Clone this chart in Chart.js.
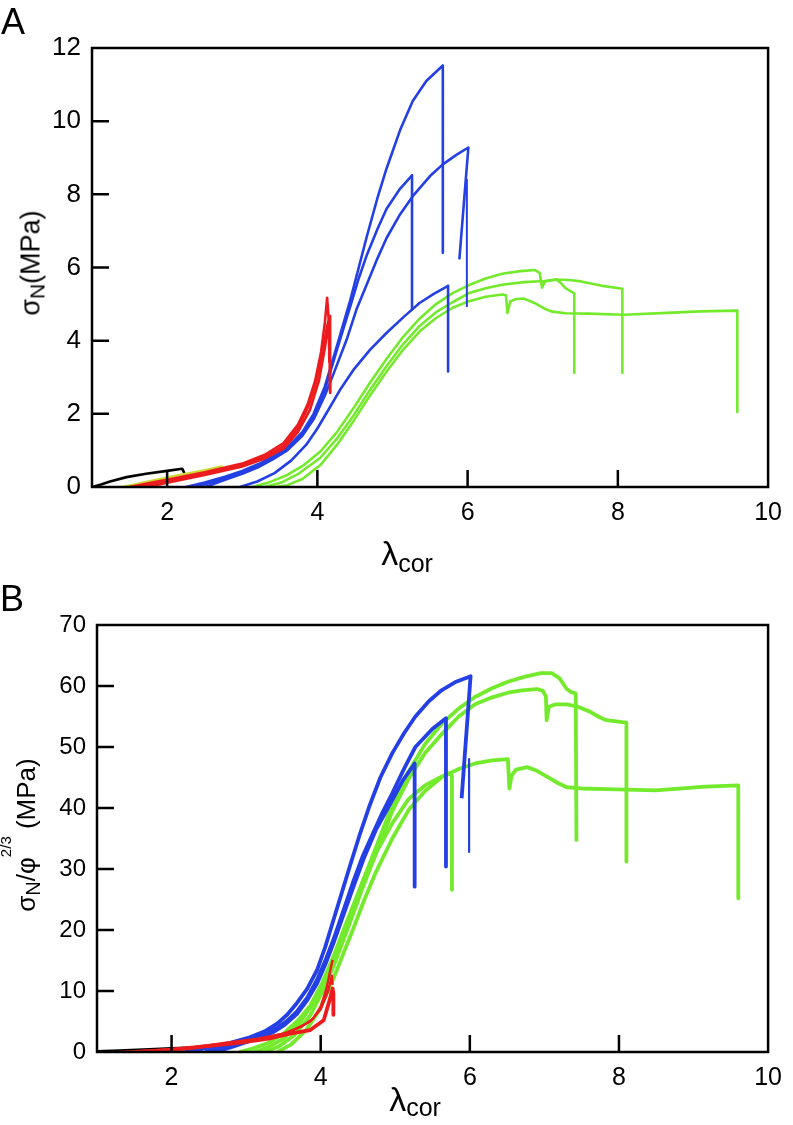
<!DOCTYPE html>
<html>
<head>
<meta charset="utf-8">
<script src="https://cdn.jsdelivr.net/npm/chart.js@4.4.1/dist/chart.umd.min.js"></script>
<style>
  body { margin: 0; background: #fff; }
  #page { position: relative; width: 793px; height: 1125px; overflow: hidden; font-family: 'Liberation Sans', Arial, Helvetica, sans-serif; color: #000; }
  .box { position: absolute; left: 0; }
  .lbl { position: absolute; white-space: nowrap; line-height: 1; }
  .rot { transform: translate(-50%, -50%) rotate(-90deg); }
  .sub { position: relative; }
</style>
</head>
<body>
<div id="page">
  <div class="box" style="top:0"><canvas id="chartA" width="793" height="545"></canvas></div>
  <div class="box" style="top:560px"><canvas id="chartB" width="793" height="565"></canvas></div>

  <div class="lbl" style="left:1px; top:4px; font-size:36px">A</div>
  <div class="lbl" style="left:0px; top:581px; font-size:36px">B</div>

  <div class="lbl rot" style="left:31px; top:263px; font-size:27px">σ<span class="sub" style="font-size:21px; top:5px">N</span>(MPa)</div>
  <div class="lbl rot" style="left:26px; top:835px; font-size:26px">σ<span class="sub" style="font-size:20px; top:5px">N</span>/φ<span class="sub" style="font-size:15px; top:-24px">2/3</span> (MPa)</div>

  <div class="lbl" style="left:407px; top:536px; font-size:34px; transform:translateX(-50%)">λ<span class="sub" style="font-size:25px; top:7px">cor</span></div>
  <div class="lbl" style="left:415px; top:1082px; font-size:34px; transform:translateX(-50%)">λ<span class="sub" style="font-size:25px; top:5px">cor</span></div>
</div>

<script>
// axis ticks
const xTicks = [2, 4, 6, 8, 10];
const aYTicks = [0, 2, 4, 6, 8, 10, 12];
const bYTicks = [0, 10, 20, 30, 40, 50, 60, 70];

// Panel A: sigma_N (MPa) vs lambda_cor, [lambda, sigma]
const aBlack = [[1.0,0],[1.12,0.07],[1.24,0.15],[1.46,0.27],[1.72,0.36],[2.0,0.44],[2.2,0.5],[2.23,0.38]];
const aYellow = [[1.4,0],[1.6,0.08],[1.89,0.21],[2.1,0.3],[2.33,0.39],[2.55,0.48],[2.73,0.56],[2.73,0.44]];
const aRed1 = [[1.5,0],[1.8,0.12],[2.1,0.24],[2.5,0.4],[3.0,0.64],[3.3,0.88],[3.55,1.2],[3.74,1.7],[3.87,2.25],[3.97,2.9],[4.05,3.7],[4.1,4.5],[4.13,5.17],[4.16,4.3],[4.17,2.6]];
const aRed2 = [[1.6,0],[2.0,0.17],[2.5,0.37],[3.0,0.6],[3.3,0.82],[3.55,1.12],[3.74,1.6],[3.88,2.2],[3.99,2.9],[4.07,3.7],[4.13,4.4],[4.17,4.67],[4.17,2.57]];
const aRed3 = [[1.74,0],[2.0,0.12],[2.5,0.33],[3.0,0.56],[3.3,0.78],[3.55,1.05],[3.74,1.5],[3.9,2.1],[4.02,2.9],[4.1,3.8],[4.15,4.5],[4.16,3.4]];
const aBlue1 = [[2.25,0],[2.5,0.12],[2.77,0.28],[3.0,0.44],[3.21,0.62],[3.4,0.82],[3.6,1.08],[3.8,1.5],[3.95,2.0],[4.1,2.75],[4.26,3.85],[4.44,5.12],[4.66,6.86],[4.8,7.9],[4.92,8.7],[5.1,9.75],[5.27,10.55],[5.45,11.1],[5.67,11.52],[5.67,6.4]];
const aBlue2 = [[2.51,0],[2.77,0.2],[3.0,0.36],[3.21,0.54],[3.4,0.75],[3.6,1.0],[3.8,1.4],[3.95,1.85],[4.1,2.5],[4.22,3.12],[4.39,4.03],[4.52,4.85],[4.66,5.55],[4.8,6.25],[4.92,6.8],[5.1,7.45],[5.27,7.95],[5.5,8.5],[5.67,8.82],[5.85,9.08],[6.01,9.28],[5.89,6.22]];
const aBlue2Tail = [[5.99,8.4],[5.99,4.94]];
const aBlue3 = [[2.38,0],[2.6,0.13],[2.77,0.24],[3.0,0.4],[3.21,0.58],[3.4,0.78],[3.6,1.04],[3.8,1.45],[3.95,1.95],[4.1,2.65],[4.26,3.75],[4.44,4.95],[4.55,5.7],[4.66,6.35],[4.8,7.05],[4.92,7.6],[5.1,8.15],[5.26,8.52],[5.26,4.85]];
const aBlue4 = [[2.97,0],[3.2,0.15],[3.43,0.38],[3.65,0.72],[3.85,1.15],[4.0,1.6],[4.13,2.05],[4.3,2.65],[4.48,3.2],[4.7,3.75],[4.92,4.21],[5.15,4.65],[5.36,5.03],[5.55,5.28],[5.74,5.5],[5.74,3.16]];
const aGreen1 = [[3.14,0],[3.35,0.12],[3.6,0.33],[3.82,0.6],[4.04,0.97],[4.26,1.5],[4.48,2.15],[4.7,2.85],[4.92,3.5],[5.14,4.1],[5.36,4.6],[5.58,5.0],[5.8,5.3],[6.02,5.52],[6.24,5.7],[6.46,5.83],[6.7,5.9],[6.9,5.93],[6.96,5.85],[6.99,5.45],[7.03,5.62],[7.18,5.67],[7.35,5.66],[7.51,5.62],[7.82,5.49],[8.06,5.42],[8.06,3.12]];
const aGreen2 = [[3.3,0],[3.52,0.12],[3.74,0.35],[4.04,0.8],[4.26,1.32],[4.48,1.95],[4.7,2.65],[4.92,3.3],[5.14,3.9],[5.36,4.4],[5.58,4.78],[5.8,5.05],[6.02,5.3],[6.24,5.43],[6.46,5.53],[6.75,5.6],[7.03,5.63],[7.18,5.67],[7.24,5.58],[7.3,5.44],[7.42,5.29],[7.42,3.12]];
const aGreen3 = [[3.45,0],[3.6,0.05],[3.8,0.22],[4.04,0.6],[4.26,1.15],[4.48,1.8],[4.7,2.5],[4.92,3.15],[5.14,3.75],[5.36,4.25],[5.58,4.62],[5.8,4.9],[6.02,5.08],[6.24,5.2],[6.46,5.26],[6.51,5.24],[6.53,4.76],[6.57,5.08],[6.65,5.14],[6.75,5.15],[6.89,5.03],[7.0,4.9],[7.11,4.8],[7.3,4.75],[7.6,4.74],[8.08,4.71],[8.65,4.76],[9.1,4.8],[9.59,4.82],[9.59,2.05]];

// Panel B: sigma_N / phi^(2/3) (MPa) vs lambda_cor
const bBlack = [[1.0,0],[1.3,0.15],[1.7,0.35],[2.0,0.5],[2.3,0.65],[2.33,0.45]];
const bRed1 = [[1.3,0],[1.8,0.3],[2.3,0.8],[2.71,1.5],[3.15,2.2],[3.5,3.0],[3.75,4.2],[3.9,5.5],[4.0,7.4],[4.08,10.5],[4.13,13.5],[4.16,15.1]];
const bRed2 = [[1.55,0],[2.0,0.4],[2.5,1.0],[2.9,1.5],[3.3,2.2],[3.59,3.0],[3.86,3.6],[4.04,5.2],[4.12,8.5],[4.16,10.4],[4.17,9.6],[4.17,6.1]];
const bRed3 = [[1.75,0],[2.2,0.5],[2.71,1.2],[3.15,2.0],[3.59,3.3],[3.86,5.0],[4.0,7.0],[4.1,10.0],[4.15,12.5],[4.16,11.0]];
const bBlue1 = [[2.18,0],[2.45,0.6],[2.75,1.4],[3.05,2.4],[3.25,3.4],[3.42,4.7],[3.55,6.1],[3.68,8.0],[3.82,10.4],[3.95,13.4],[4.06,17.2],[4.17,21.6],[4.28,26.0],[4.39,30.4],[4.52,35.5],[4.65,40.2],[4.8,45.0],[4.96,49.0],[5.12,52.3],[5.27,55.0],[5.45,57.5],[5.62,59.3],[5.8,60.6],[6.01,61.6],[5.89,41.6]];
const bBlue1Tail = [[5.99,48.0],[5.99,32.8]];
const bBlue2 = [[2.45,0],[2.7,0.8],[2.93,1.6],[3.2,2.7],[3.42,4.0],[3.55,5.1],[3.68,6.6],[3.82,8.9],[3.95,11.8],[4.06,14.9],[4.17,18.4],[4.3,23.0],[4.43,27.7],[4.56,32.0],[4.7,35.8],[4.83,39.3],[4.96,42.4],[5.12,46.5],[5.27,50.0],[5.5,53.0],[5.68,54.7],[5.68,30.4]];
const bBlue3 = [[2.58,0],[2.8,0.8],[3.05,1.8],[3.37,3.3],[3.52,4.5],[3.68,6.2],[3.82,8.5],[3.95,11.2],[4.06,14.3],[4.17,17.8],[4.3,22.3],[4.43,26.8],[4.58,31.8],[4.74,36.4],[4.96,41.3],[5.1,44.5],[5.26,47.3],[5.26,27.1]];
const bGreen1 = [[3.11,0],[3.3,0.8],[3.5,2.2],[3.7,4.5],[3.9,8.0],[4.04,11.3],[4.17,15.0],[4.3,19.2],[4.43,23.5],[4.58,28.5],[4.74,33.5],[4.96,40.5],[5.18,46.0],[5.4,50.5],[5.63,53.9],[5.85,56.3],[6.07,58.2],[6.29,59.6],[6.51,60.7],[6.73,61.5],[6.95,62.1],[7.1,62.1],[7.2,61.3],[7.3,59.5],[7.36,59.0],[7.42,58.8],[7.43,34.5]];
const bGreen2 = [[3.26,0],[3.45,1.0],[3.65,2.8],[3.86,6.0],[4.02,9.8],[4.17,14.0],[4.3,18.2],[4.43,22.5],[4.58,27.5],[4.74,32.5],[4.96,39.5],[5.18,44.8],[5.4,49.0],[5.63,52.2],[5.85,55.0],[6.07,57.0],[6.29,58.1],[6.51,58.9],[6.7,59.3],[6.9,59.5],[6.98,59.2],[7.02,58.3],[7.03,54.4],[7.06,56.6],[7.15,57.0],[7.3,57.0],[7.45,56.6],[7.61,55.8],[7.72,55.0],[7.83,54.4],[8.1,54.0],[8.1,31.2]];
const bGreen3 = [[2.91,0],[3.1,0.6],[3.3,1.5],[3.5,3.0],[3.7,5.2],[3.86,7.6],[4.02,11.3],[4.17,15.6],[4.3,19.8],[4.43,23.8],[4.58,28.4],[4.74,32.6],[4.96,37.5],[5.18,41.5],[5.4,43.7],[5.6,45.0],[5.72,45.7],[5.76,45.3],[5.76,26.6]];
const bGreen4 = [[3.42,0],[3.6,1.2],[3.8,3.5],[3.98,6.8],[4.17,12.0],[4.3,16.0],[4.43,20.0],[4.58,24.8],[4.74,29.5],[4.96,35.0],[5.18,39.7],[5.4,42.8],[5.63,45.1],[5.85,46.4],[6.07,47.3],[6.3,47.8],[6.51,48.0],[6.53,43.2],[6.56,45.3],[6.62,46.3],[6.77,46.7],[6.9,46.1],[7.04,45.1],[7.18,44.1],[7.3,43.4],[7.5,43.2],[7.83,43.1],[8.49,42.9],[9.16,43.5],[9.6,43.7],[9.6,25.2]];

const BLACK = '#000000';
const YELLOW = 'rgb(205,218,55)';
const RED = 'rgb(236,28,30)';
const BLUE = 'rgb(36,64,228)';
const GREEN = 'rgb(116,234,44)';

Chart.defaults.font.family = "'Liberation Sans', Arial, Helvetica, sans-serif";
Chart.defaults.color = '#000';

function curve(points, color, width) {
  return {
    data: points.map(p => ({ x: p[0], y: p[1] })),
    borderColor: color,
    borderWidth: width,
    showLine: true,
    pointRadius: 0,
    fill: false,
    tension: 0,
    borderJoinStyle: 'round',
    borderCapStyle: 'butt'
  };
}

// frame box and inward tick marks
const framePlugin = {
  id: 'frame',
  afterDraw(chart) {
    const { ctx, chartArea: a, scales } = chart;
    ctx.save();
    ctx.strokeStyle = '#000';
    ctx.lineWidth = 2.5;
    ctx.strokeRect(a.left, a.top, a.right - a.left, a.bottom - a.top);
    ctx.beginPath();
    scales.x.ticks.forEach(t => {
      const px = scales.x.getPixelForValue(t.value);
      if (px > a.left + 2 && px < a.right - 2) {
        ctx.moveTo(px, a.bottom);
        ctx.lineTo(px, a.bottom - 17);
      }
    });
    scales.y.ticks.forEach(t => {
      const py = scales.y.getPixelForValue(t.value);
      if (py > a.top + 2 && py < a.bottom - 2) {
        ctx.moveTo(a.left, py);
        ctx.lineTo(a.left + 17, py);
      }
    });
    ctx.stroke();
    ctx.restore();
  }
};

function makeChart(id, datasets, yMax, yTicks, box) {
  return new Chart(document.getElementById(id), {
    type: 'scatter',
    data: { datasets },
    options: {
      responsive: false,
      animation: false,
      events: [],
      layout: { padding: { left: 0, top: box.top, right: box.right, bottom: 0 } },
      plugins: { legend: { display: false }, tooltip: { enabled: false } },
      scales: {
        x: {
          type: 'linear', min: 1, max: 10,
          afterBuildTicks: ax => { ax.ticks = xTicks.map(v => ({ value: v })); },
          afterFit: s => { s.height = box.xHeight; },
          grid: { display: false, drawTicks: false },
          border: { display: false },
          ticks: { padding: 11, font: { size: 25 }, color: '#000', autoSkip: false, maxRotation: 0 }
        },
        y: {
          type: 'linear', min: 0, max: yMax,
          afterBuildTicks: ax => { ax.ticks = yTicks.map(v => ({ value: v })); },
          afterFit: s => { s.width = box.left; },
          grid: { display: false, drawTicks: false },
          border: { display: false },
          ticks: { padding: 11, font: { size: box.yFont }, color: '#000', autoSkip: false }
        }
      }
    },
    plugins: [framePlugin]
  });
}

const lwA = 2.6;
const lwB = 3.8;

makeChart('chartA', [
  curve(aRed1, RED, lwA), curve(aRed2, RED, lwA), curve(aRed3, RED, lwA),
  curve(aBlue1, BLUE, lwA), curve(aBlue2, BLUE, lwA), curve(aBlue2Tail, BLUE, 2),
  curve(aBlue3, BLUE, lwA), curve(aBlue4, BLUE, lwA),
  curve(aGreen1, GREEN, lwA), curve(aGreen2, GREEN, lwA), curve(aGreen3, GREEN, lwA),
  curve(aYellow, YELLOW, lwA), curve(aBlack, BLACK, lwA)
], 12, aYTicks, { left: 92, top: 48, right: 16, xHeight: 58, yFont: 26 });

makeChart('chartB', [
  curve(bRed1, RED, 2.4), curve(bRed2, RED, lwB), curve(bRed3, RED, 2.4),
  curve(bBlue1, BLUE, lwB), curve(bBlue1Tail, BLUE, 2.2), curve(bBlue2, BLUE, lwB), curve(bBlue3, BLUE, lwB),
  curve(bGreen1, GREEN, lwB), curve(bGreen2, GREEN, lwB), curve(bGreen3, GREEN, lwB), curve(bGreen4, GREEN, lwB),
  curve(bBlack, BLACK, lwB)
], 70, bYTicks, { left: 97, top: 65, right: 15, xHeight: 73, yFont: 24 });
</script>
</body>
</html>
